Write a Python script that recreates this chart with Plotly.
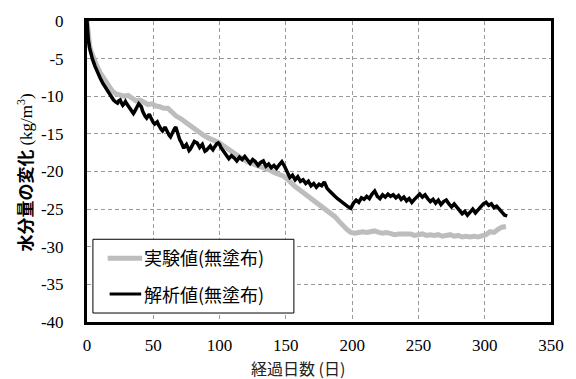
import plotly.graph_objects as go

# 実験値(無塗布): elapsed days and change in moisture content (kg/m3)
exp_days = [0, 1, 2, 3, 5, 7, 10, 13, 16, 19, 22, 25, 28, 31, 34, 37, 40, 43, 46, 49,
            52, 55, 58, 61, 64, 67, 70, 73, 76, 79, 82, 85, 88, 91, 94, 97, 100, 103,
            106, 109, 112, 115, 118, 121, 124, 127, 130, 133, 136, 139, 142, 145, 148,
            151, 154, 157, 160, 163, 166, 169, 172, 175, 178, 181, 184, 187, 190, 193,
            196, 199, 202, 205, 208, 211, 214, 217, 220, 223, 226, 229, 232, 235, 238,
            241, 244, 247, 250, 253, 256, 259, 262, 265, 268, 271, 274, 277, 280, 283,
            286, 289, 292, 295, 298, 301, 304, 307, 310, 313, 316]
exp_vals = [0, -2.3, -3.3, -4.0, -5.0, -5.8, -6.9, -7.8, -8.6, -9.3, -9.7, -9.9, -10.0,
            -9.9, -10.2, -10.6, -10.5, -10.8, -11.1, -11.0, -11.3, -11.4, -11.6, -11.6,
            -12.2, -12.6, -12.9, -13.3, -13.8, -14.2, -14.5, -14.8, -15.2, -15.5, -15.7,
            -16.0, -16.2, -16.6, -17.0, -17.4, -17.8, -18.1, -18.4, -18.7, -18.9, -19.1,
            -19.3, -19.4, -19.6, -19.9, -20.2, -20.4, -20.6, -21.0, -21.6, -22.0, -22.4,
            -22.8, -23.2, -23.6, -24.0, -24.4, -24.6, -25.0, -25.5, -26.0, -26.6, -27.2,
            -27.7, -28.1, -28.2, -28.1, -28.0, -28.1, -28.0, -27.9, -28.1, -28.2, -28.1,
            -28.3, -28.4, -28.3, -28.3, -28.4, -28.3, -28.5, -28.4, -28.3, -28.5, -28.4,
            -28.5, -28.4, -28.6, -28.5, -28.4, -28.6, -28.5, -28.7, -28.6, -28.7, -28.6,
            -28.7, -28.5, -28.4, -28.0, -28.1, -27.7, -27.4, -27.3]

# 解析値(無塗布)
ana_days = [0, 0.5, 1, 2, 3, 4, 6, 8, 10, 12, 14, 16, 18, 20, 22, 23, 24, 25, 26, 27,
            28, 29, 30, 31, 32, 33, 34, 35, 36, 37, 38, 39, 40, 41, 42, 43, 44, 45, 46,
            47, 48, 49, 50, 51, 52, 53, 54, 55, 56, 57, 58, 59, 60, 61, 62, 63, 64, 65,
            66, 67, 68, 69, 70, 71, 72, 73, 74, 75, 76, 77, 78, 79, 80, 81, 82, 83, 84,
            85, 86, 87, 88, 89, 90, 91, 92, 93, 94, 95, 96, 97, 98, 99, 100, 101, 103,
            105, 107, 109, 111, 113, 115, 117, 119, 121, 123, 125, 127, 129, 131, 133,
            135, 137, 139, 141, 143, 145, 147, 149, 151, 153, 155, 157, 159, 161, 163,
            165, 167, 169, 171, 173, 175, 177, 179, 181, 183, 185, 187, 189, 191, 193,
            195, 197, 199, 201, 203, 205, 207, 209, 211, 213, 215, 217, 219, 221, 223,
            225, 227, 229, 231, 233, 235, 237, 239, 241, 243, 245, 247, 249, 251, 253,
            255, 257, 259, 261, 263, 265, 267, 269, 271, 273, 275, 277, 279, 281, 283,
            285, 287, 289, 291, 293, 295, 297, 299, 301, 303, 305, 307, 309, 311, 313,
            315, 317]
ana_vals = [0, -1.5, -2.5, -3.6, -4.4, -5.0, -6.0, -6.9, -7.6, -8.3, -8.9, -9.5, -10.0,
            -10.5, -10.8, -10.9, -10.6, -10.5, -10.9, -11.2, -11.0, -10.7, -11.0, -11.3,
            -11.5, -11.8, -12.1, -12.3, -12.0, -11.6, -11.3, -11.0, -11.2, -11.4, -12.0,
            -12.5, -12.7, -12.9, -12.6, -12.4, -12.8, -13.2, -13.5, -13.7, -13.6, -13.4,
            -13.8, -14.2, -14.4, -14.6, -14.3, -14.1, -14.5, -14.9, -15.2, -15.4, -15.0,
            -14.6, -14.3, -14.1, -14.8, -15.5, -15.8, -16.1, -16.5, -16.9, -16.6, -16.4,
            -16.8, -17.2, -17.0, -16.7, -16.3, -16.0, -16.1, -16.2, -16.5, -16.8, -16.6,
            -16.4, -16.9, -17.3, -17.2, -17.0, -16.8, -16.6, -16.9, -17.1, -16.8, -16.5,
            -16.3, -16.2, -16.4, -16.8, -17.4, -17.8, -18.3, -17.9, -18.2, -18.6, -18.1,
            -18.4, -18.0, -18.5, -18.9, -18.4, -18.7, -19.2, -18.8, -18.6, -19.3, -19.0,
            -19.5, -19.2, -19.6, -19.1, -18.7, -19.3, -20.2, -20.8, -20.5, -21.1, -20.7,
            -21.3, -21.1, -21.6, -21.3, -21.9, -21.6, -22.1, -21.7, -21.9, -21.4, -22.2,
            -22.6, -23.0, -23.3, -23.6, -23.9, -24.2, -24.4, -24.7, -24.9, -24.2, -23.8,
            -24.1, -23.5, -23.7, -23.3, -23.6, -23.0, -22.6, -23.3, -23.6, -23.1, -23.4,
            -23.0, -23.3, -23.1, -23.5, -23.2, -23.7, -23.4, -23.9, -23.6, -24.1, -23.7,
            -23.3, -23.0, -23.4, -23.1, -23.6, -24.0, -23.7, -24.2, -23.8, -24.4, -24.0,
            -23.8, -24.3, -24.7, -24.3, -24.8, -25.2, -25.6, -25.3, -25.8, -25.4, -25.0,
            -25.5, -25.1, -24.6, -24.3, -24.1, -24.5, -24.3, -24.8, -24.6, -25.1, -25.4,
            -25.8, -25.9]

x_tick_vals = [0, 50, 100, 150, 200, 250, 300, 350]
x_tick_text = ["0", "50", "100", "150", "200", "250", "300", "350"]
y_tick_vals = [0, -5, -10, -15, -20, -25, -30, -35, -40]
y_tick_text = ["0", "-5", "-10", "-15", "-20", "-25", "-30", "-35", "-40"]

series_names = ["実験値(無塗布)", "解析値(無塗布)"]
x_title = "経過日数 (日)"
y_title_jp = "水分量の変化"

W, H = 576, 379
L, R, T, B = 87, 18, 20, 57
pw, ph = W - L - R, H - T - B

def px(x):
    return (x - L) / pw

def py(y):
    return (H - B - y) / ph

JP = "Noto Sans CJK JP"
SERIF = "Liberation Serif"
GRAY = "#bdbdbd"
tick_font = dict(family="Liberation Serif, Times New Roman, serif", size=17, color="black")

fig = go.Figure()
fig.add_trace(go.Scatter(x=exp_days, y=exp_vals, mode="lines", name=series_names[0],
                         line=dict(color=GRAY, width=5), showlegend=False))
fig.add_trace(go.Scatter(x=ana_days, y=ana_vals, mode="lines", name=series_names[1],
                         line=dict(color="black", width=3.5), showlegend=False))

axis_common = dict(
    showline=True, linecolor="black", linewidth=3, mirror=True,
    showgrid=True, gridcolor="#9a9a9a", gridwidth=1, griddash="4px,3px",
    zeroline=False, ticks="",
)
fig.update_xaxes(range=[0, 350], tickmode="array", tickvals=x_tick_vals,
                 ticktext=x_tick_text, tickfont=tick_font, ticklabelstandoff=6,
                 **axis_common)
fig.update_yaxes(range=[-40, 0], tickmode="array", tickvals=y_tick_vals,
                 ticktext=y_tick_text, tickfont=tick_font, ticklabelstandoff=17,
                 **axis_common)

# legend box drawn in paper coordinates
shapes = [
    dict(type="rect", xref="paper", yref="paper", x0=px(93), x1=px(297),
         y0=py(313), y1=py(239), line=dict(color="black", width=1), fillcolor="white",
         layer="above"),
    dict(type="line", xref="paper", yref="paper", x0=px(108), x1=px(143),
         y0=py(258), y1=py(258), line=dict(color=GRAY, width=5), layer="above"),
    dict(type="line", xref="paper", yref="paper", x0=px(110), x1=px(142),
         y0=py(294), y1=py(294), line=dict(color="black", width=3), layer="above"),
]
annotations = [
    dict(text=series_names[0], xref="paper", yref="paper", x=px(143), y=py(257),
         xanchor="left", yanchor="middle", showarrow=False,
         font=dict(family=JP, size=18, color="black")),
    dict(text=series_names[1], xref="paper", yref="paper", x=px(143), y=py(294),
         xanchor="left", yanchor="middle", showarrow=False,
         font=dict(family=JP, size=18, color="black")),
    dict(text=x_title, xref="paper", yref="paper", x=px(301), y=py(368),
         xanchor="center", yanchor="middle", showarrow=False,
         font=dict(family=JP, size=16, color="#222")),
    dict(text=f"<b>{y_title_jp}</b> <span style='font-family:{SERIF}'>(kg/m<sup>3</sup>)</span>",
         xref="paper", yref="paper", x=px(24), y=py(172), textangle=-90,
         xanchor="center", yanchor="middle", showarrow=False,
         font=dict(family=JP, size=17, color="black")),
]

fig.update_layout(
    width=W, height=H, margin=dict(l=L, r=R, t=T, b=B),
    font=dict(family="Liberation Serif, Times New Roman, serif", color="black"),
    paper_bgcolor="white", plot_bgcolor="white",
    shapes=shapes, annotations=annotations, showlegend=False,
)

fig.write_html("out.html")
